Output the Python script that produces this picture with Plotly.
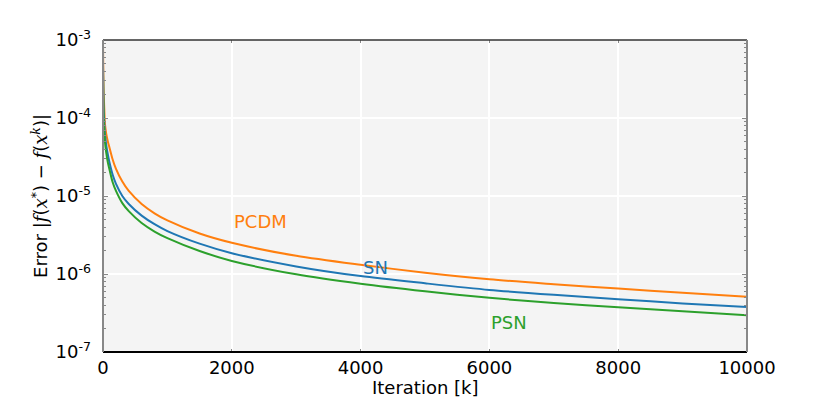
import math
import plotly.graph_objects as go

iterations = [0, 10, 20, 30, 50, 75, 100, 150, 200, 300, 400, 600, 800, 1000,
              1500, 2000, 3000, 4000, 5000, 6000, 7000, 8000, 9000, 10000]

pcdm = [9.0e-4, 2.2e-4, 1.3e-4, 8.5e-5, 6.3e-5, 5.0e-5, 4.2e-5, 2.94e-5, 2.24e-5,
        1.53e-5, 1.16e-5, 7.9e-6, 6.0e-6, 4.86e-6, 3.3e-6, 2.51e-6, 1.71e-6,
        1.31e-6, 1.04e-6, 8.55e-7, 7.4e-7, 6.5e-7, 5.75e-7, 5.1e-7]

sn = [5.0e-4, 1.25e-4, 8.5e-5, 6.2e-5, 4.5e-5, 3.4e-5, 2.7e-5, 1.87e-5, 1.44e-5,
      1.0e-5, 7.9e-6, 5.6e-6, 4.35e-6, 3.55e-6, 2.45e-6, 1.85e-6, 1.25e-6,
      9.4e-7, 7.6e-7, 6.25e-7, 5.4e-7, 4.75e-7, 4.2e-7, 3.78e-7]

psn = [4.8e-4, 1.0e-4, 6.6e-5, 5.0e-5, 3.6e-5, 2.7e-5, 2.2e-5, 1.5e-5, 1.17e-5,
       8.1e-6, 6.4e-6, 4.5e-6, 3.5e-6, 2.88e-6, 1.97e-6, 1.47e-6, 9.9e-7,
       7.5e-7, 6.0e-7, 4.95e-7, 4.25e-7, 3.75e-7, 3.32e-7, 2.95e-7]

series_names = ["PCDM", "SN", "PSN"]
series_colors = ["#ff7f0e", "#1f77b4", "#2ca02c"]
label_x = [2000, 4000, 6000]
label_y = [4.75e-6, 1.2e-6, 2.41e-7]

x_ticks = [0, 2000, 4000, 6000, 8000, 10000]
y_ticks = [1e-7, 1e-6, 1e-5, 1e-4, 1e-3]
y_ticktext = ["10<sup>-7</sup>", "10<sup>-6</sup>", "10<sup>-5</sup>",
              "10<sup>-4</sup>", "10<sup>-3</sup>"]
y_minor = [m * 10.0 ** e for e in range(-7, -3) for m in range(2, 10)]

FONT = "DejaVu Sans, sans-serif"
SERIF = "DejaVu Serif"

fig = go.Figure()
for name, vals, col in zip(series_names, [pcdm, sn, psn], series_colors):
    fig.add_trace(go.Scatter(x=iterations, y=vals, mode="lines", name=name,
                             line=dict(color=col, width=2, shape="spline", smoothing=0.8)))

for name, lx, ly, col in zip(series_names, label_x, label_y, series_colors):
    fig.add_annotation(x=lx, y=math.log10(ly), xref="x", yref="y", text=name,
                       showarrow=False, xanchor="left", yanchor="middle",
                       font=dict(family=FONT, size=18, color=col))

m = lambda s: f"<span style=\"font-family:{SERIF}\"><i>{s}</i></span>"
ytitle = ("Error |" + m("f") + "(" + m("x") + "<sup>*</sup>) \u2212 "
          + m("f") + "(" + m("x") + "<sup>" + m("k") + "</sup>)|")
fig.add_annotation(
    x=-0.098, y=0.5, xref="paper", yref="paper", textangle=-90,
    text=ytitle, showarrow=False, xanchor="center", yanchor="middle",
    font=dict(family=FONT, size=18, color="black"))
fig.add_annotation(
    x=0.5, y=-0.113, xref="paper", yref="paper", text="Iteration [k]",
    showarrow=False, xanchor="center", yanchor="middle",
    font=dict(family=FONT, size=18, color="black"))

# spines
fig.add_shape(type="line", xref="paper", yref="paper", x0=0, x1=1, y0=1, y1=1,
              line=dict(color="#333333", width=1.5))
fig.add_shape(type="line", xref="paper", yref="paper", x0=0, x1=1, y0=0, y1=0,
              line=dict(color="#000000", width=2))
fig.add_shape(type="line", xref="paper", yref="paper", x0=0, x1=0, y0=0, y1=1,
              line=dict(color="#888888", width=2))
fig.add_shape(type="line", xref="paper", yref="paper", x0=1, x1=1, y0=0, y1=1,
              line=dict(color="#888888", width=2))

# page body has an 8px margin; figure sized so the plot area lands where the reference has it
fig.update_layout(
    width=814, height=399,
    margin=dict(l=95, r=75, t=32, b=55, pad=0),
    paper_bgcolor="white", plot_bgcolor="#f4f4f4",
    showlegend=False,
    font=dict(family=FONT, size=18, color="black"),
    xaxis=dict(range=[0, 10000], tickvals=x_ticks, ticktext=[str(v) for v in x_ticks],
               showgrid=True, gridcolor="white", gridwidth=2, zeroline=False,
               showline=False, ticks="inside", ticklen=3, tickcolor="#888888",
               mirror="ticks", ticklabelstandoff=3,
               tickfont=dict(family=FONT, size=18, color="black")),
    yaxis=dict(type="log", range=[-7, -3], tickvals=y_ticks, ticktext=y_ticktext,
               showgrid=True, gridcolor="white", gridwidth=2, zeroline=False,
               showline=False, ticks="inside", ticklen=5, tickcolor="#888888",
               mirror="ticks", ticklabelstandoff=11,
               minor=dict(ticks="inside", ticklen=3, tickcolor="#888888",
                          tickvals=y_minor, showgrid=False),
               tickfont=dict(family=FONT, size=18, color="black")),
)

fig.write_html("out.html")
